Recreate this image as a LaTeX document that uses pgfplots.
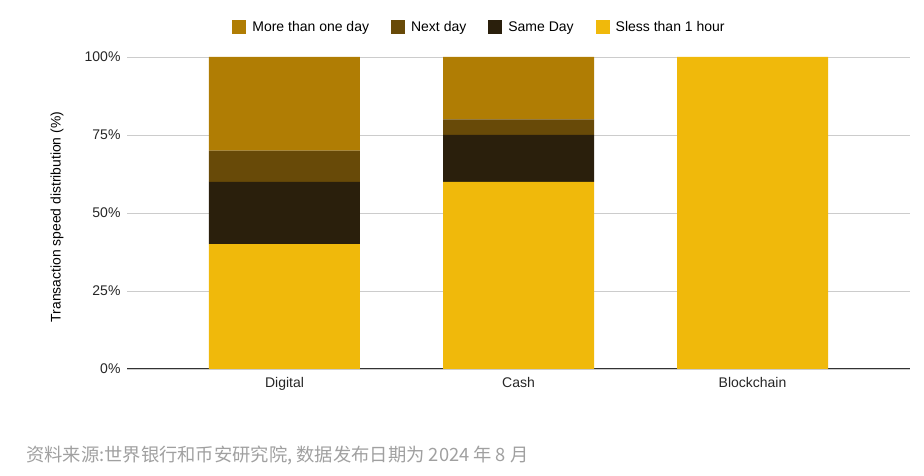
\documentclass[border=0pt]{standalone}
\usepackage{pgfplots}
\pgfplotsset{compat=1.18}
\usepackage{fontspec}
\setmainfont{Liberation Sans}
\newfontfamily\cjk{Noto Sans CJK SC}
\definecolor{cMore}{HTML}{B07D04}
\definecolor{cNext}{HTML}{684A08}
\definecolor{cSame}{HTML}{2A1F0C}
\definecolor{cLess}{HTML}{F0B90B}
\definecolor{gridc}{HTML}{CCCCCC}
\definecolor{srcc}{HTML}{A0A0A0}
\begin{document}
\begin{tikzpicture}[x=1pt,y=1pt]
\path[use as bounding box] (0,0) rectangle (924,476);
\begin{axis}[
  at={(127pt,107pt)}, anchor=south west,
  scale only axis, width=783pt, height=312pt,
  ybar stacked, bar width=151pt,
  xmin=-0.673, xmax=2.673, ymin=0, ymax=100,
  xtick={0,1,2}, xticklabels={Digital,Cash,Blockchain},
  ytick={0,25,50,75,100}, yticklabels={0\%,25\%,50\%,75\%,100\%},
  /pgf/number format/assume math mode=true,
  tick label style={font=\fontsize{14}{16}\selectfont, text=black!85},
  yticklabel style={xshift=-3pt},
  xticklabel style={yshift=-5pt},
  major tick length=0pt,
  ymajorgrids, grid style={gridc, line width=0.8pt},
  axis line style={draw=none},
  axis x line*=bottom,
  extra y ticks={0}, extra y tick labels={},
  extra y tick style={grid style={black!80, line width=1pt}},
  ylabel={Transaction speed distribution (\%)},
  ylabel style={at={(axis description cs:-0.0894,0.487)}, anchor=center, font=\fontsize{13.9}{15}\selectfont},
  legend columns=4, reverse legend,
  legend style={at={(axis description cs:0.5,1)}, anchor=center, xshift=-39pt, yshift=30pt,
    draw=none, font=\fontsize{14}{16}\selectfont,
    /tikz/every odd column/.append style={column sep=4pt},
    /tikz/every even column/.append style={column sep=20pt}},
  legend image code/.code={\fill[#1] (0pt,-7pt) rectangle (14pt,7pt);},
]
\addplot[fill=cLess, draw=none] coordinates {(0,40) (1,60) (2,100)};
\addplot[fill=cSame, draw=none] coordinates {(0,20) (1,15) (2,0)};
\addplot[fill=cNext, draw=none] coordinates {(0,10) (1,5) (2,0)};
\addplot[fill=cMore, draw=none] coordinates {(0,30) (1,20) (2,0)};
\legend{Sless than 1 hour, Same Day, Next day, More than one day}
\end{axis}
\node[anchor=west, text=srcc, font=\cjk\fontsize{18.3}{20}\selectfont, inner sep=0pt] at (26,21) {资料来源:世界银行和币安研究院, 数据发布日期为 2024 年 8 月};
\end{tikzpicture}
\end{document}
